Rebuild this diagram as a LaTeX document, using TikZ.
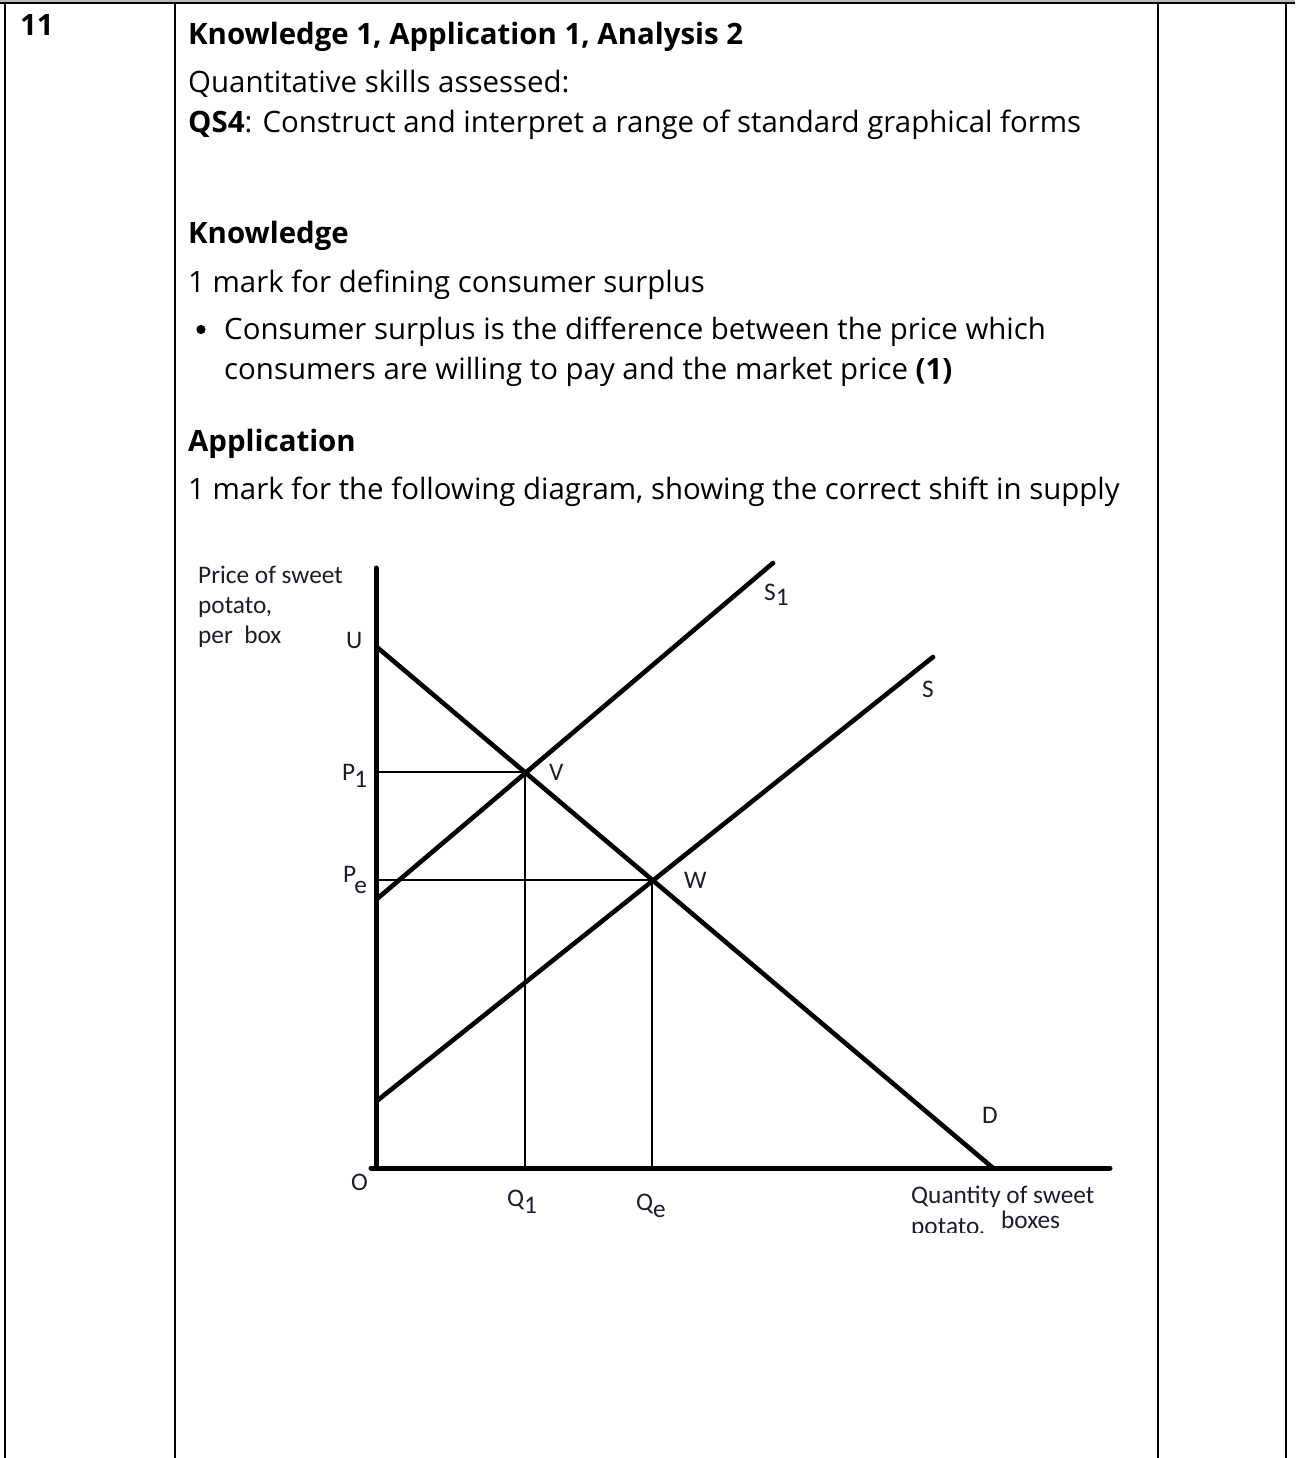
\documentclass[tikz,border=0pt]{standalone}
\usepackage{fontspec}
\setmainfont{Open Sans}
\newfontfamily\graphfont{Carlito}
\definecolor{labelc}{RGB}{28,28,48}
\definecolor{topgray}{RGB}{185,185,185}
\begin{document}
\begin{tikzpicture}[x=1pt,y=-1pt,
  body/.style={anchor=base west, inner sep=0pt, font=\fontsize{29.4}{40}\selectfont},
  head/.style={anchor=base west, inner sep=0pt, font=\fontsize{29.4}{40}\selectfont\bfseries},
  lbl/.style={anchor=base west, inner sep=0pt, text=labelc, font=\graphfont\fontsize{25.3}{30}\selectfont},
  rulel/.style={line width=2pt},
  curve/.style={line width=4.6pt, line cap=round},
  guide/.style={line width=2.8pt},
  axis/.style={line width=5pt, line cap=round}]
\useasboundingbox (0,0) rectangle (1295,1458);
\fill[white] (0,0) rectangle (1295,1458);
% table frame
\fill[topgray] (0,0) rectangle (1295,1.6);
\draw[rulel] (0,2.6) -- (1295,2.6);
\coordinate (c0t) at (5,2); \coordinate (c0b) at (5,1458);
\coordinate (c1t) at (174.5,2); \coordinate (c1b) at (174.5,1458);
\coordinate (c2t) at (1157.5,2); \coordinate (c2b) at (1157.5,1458);
\coordinate (c3t) at (1286,2); \coordinate (c3b) at (1286,1458);
\draw[rulel] (c0t) -- (c0b);
\draw[rulel] (c1t) -- (c1b);
\draw[rulel] (c2t) -- (c2b);
\draw[rulel] (c3t) -- (c3b);
% texts
\node[head] (num) at (20,36) {11};
\node[head] (t1) at (188,44.5) {Knowledge 1, Application 1, Analysis 2};
\node[body] (t2) at (188,92.5) {Quantitative skills assessed:};
\node[body] (t3) at (188,132.5) {\textbf{QS4}: Construct and interpret a range of standard graphical forms};
\node[head] (t4) at (188,243.5) {Knowledge};
\node[body] (t5) at (188,292.5) {1 mark for defining consumer surplus};
\fill (201,329.5) circle (4.6);
\node[body] (t6) at (224,339.5) {Consumer surplus is the difference between the price which};
\node[body] (t7) at (224,379.5) {consumers are willing to pay and the market price \textbf{(1)}};
\node[head] (t8) at (188,451.5) {Application};
\node[body] (t9) at (188,499.5) {1 mark for the following diagram, showing the correct shift in supply};
% graph
\coordinate (O) at (376,1168);
\coordinate (ytop) at (376,568);
\coordinate (xleft) at (371,1168);
\coordinate (xend) at (1110,1168);
\coordinate (U) at (378,648);
\coordinate (Dend) at (993,1168);
\coordinate (S1a) at (378,898);
\coordinate (S1b) at (773,563);
\coordinate (Sa) at (378,1100);
\coordinate (Sb) at (933,657);
\coordinate (V) at (525,772);
\coordinate (W) at (652,880);
\coordinate (P1) at (378,772);
\coordinate (Pe) at (378,880);
\coordinate (Q1) at (525,1166);
\coordinate (Qe) at (652,1166);
\draw[guide] (P1) -- (V);
\draw[guide] (Pe) -- (W);
\draw[guide] (V) -- (Q1);
\draw[guide] (W) -- (Qe);
\draw[curve] (U) -- (Dend);
\draw[curve] (S1a) -- (S1b);
\draw[curve] (Sa) -- (Sb);
\draw[axis] (ytop) -- (O);
\draw[axis] (xleft) -- (xend);
\begin{scope}
\clip (180,540) rectangle (1150,1232);
\node[lbl] (ylab1) at (198,583) {Price of sweet};
\node[lbl] (ylab2) at (198,613) {potato,};
\node[lbl] (ylab3) at (198,643) {per\ \ box};
\node[lbl] (lU) at (346,648) {U};
\node[lbl] (lP1) at (342,780) {P\kern-1pt\raisebox{-7pt}{1}};
\node[lbl] (lPe) at (343,882) {P\kern-2pt\raisebox{-11pt}{e}};
\node[lbl] (lS1) at (764,600) {S\raisebox{-5pt}{1}};
\node[lbl] (lS) at (922,697) {S};
\node[lbl] (lV) at (549,780) {V};
\node[lbl] (lW) at (684,888) {W};
\node[lbl] (lD) at (982,1123) {D};
\node[lbl] (lO) at (351,1190) {O};
\node[lbl] (lQ1) at (507,1206) {Q\raisebox{-7pt}{1}};
\node[lbl] (lQe) at (636,1210) {Q\raisebox{-7pt}{e}};
\node[lbl] (xlab1) at (911,1203) {Quantity of sweet};
\node[lbl] (xlab2) at (911,1234) {potato,};
\node[lbl] (xlab3) at (1001,1228) {boxes};
\end{scope}
\end{tikzpicture}
\end{document}
